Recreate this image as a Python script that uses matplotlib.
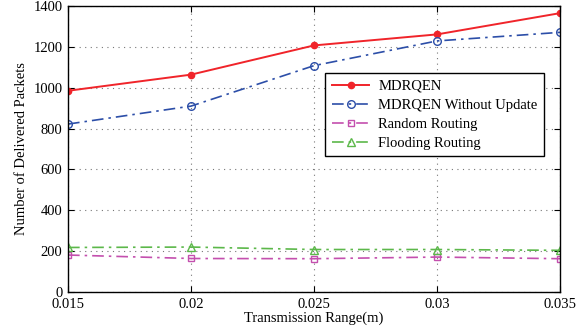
import matplotlib.pyplot as plt

x = [0.015, 0.02, 0.025, 0.03, 0.035]
mdrqen = [985, 1064, 1207, 1261, 1365]
no_update = [822, 910, 1108, 1229, 1271]
random_routing = [181, 164, 163, 171, 163]
flooding = [218, 220, 208, 208, 204]
xticks = [0.015, 0.02, 0.025, 0.03, 0.035]
xticklabels = ["0.015", "0.02", "0.025", "0.03", "0.035"]

plt.rcParams["font.family"] = ["Liberation Serif", "DejaVu Serif"]
plt.rcParams["font.size"] = 10.5

fig = plt.figure(figsize=(5.87, 3.35), dpi=100)
ax = fig.add_axes([68 / 587, 1 - 292 / 335, 492 / 587, 286 / 335])

ax.plot(x, mdrqen, color="#f0242a", marker="o", markersize=4.5, lw=1.4, label="MDRQEN")
ax.plot(x, no_update, color="#2c4ea8", marker="o", markersize=5.5, mfc="none", lw=1.2,
        dashes=[7, 3, 1.5, 3], label="MDRQEN Without Update")
ax.plot(x, random_routing, color="#c44fae", marker="s", markersize=5, mfc="none", lw=1.2,
        dashes=[7, 3, 1.5, 3], label="Random Routing")
ax.plot(x, flooding, color="#5cb84a", marker="^", markersize=6, mfc="none", lw=1.2,
        dashes=[7, 3, 1.5, 3], label="Flooding Routing")

ax.set_xlim(0.015, 0.035)
ax.set_ylim(0, 1400)
ax.set_xticks(xticks)
ax.set_xticklabels(xticklabels)
ax.set_yticks(range(0, 1401, 200))
ax.tick_params(direction="in", top=True, right=True, length=4, pad=4)
ax.grid(True, color="#777777", linestyle=(0, (1, 4)), lw=0.8)
for s in ax.spines.values():
    s.set_linewidth(1.0)

ax.set_xlabel("Transmission Range(m)", labelpad=1)
ax.set_ylabel("Number of Delivered Packets", labelpad=4)

leg = ax.legend(loc="upper left", bbox_to_anchor=(257 / 492, 1 - 67 / 286), fancybox=False,
                edgecolor="black", framealpha=1, handlelength=2.6, borderpad=0.45,
                borderaxespad=0, labelspacing=0.4, handletextpad=0.6, fontsize=10.5)
leg.get_frame().set_linewidth(1.0)

fig.savefig("out.png", dpi=100)
